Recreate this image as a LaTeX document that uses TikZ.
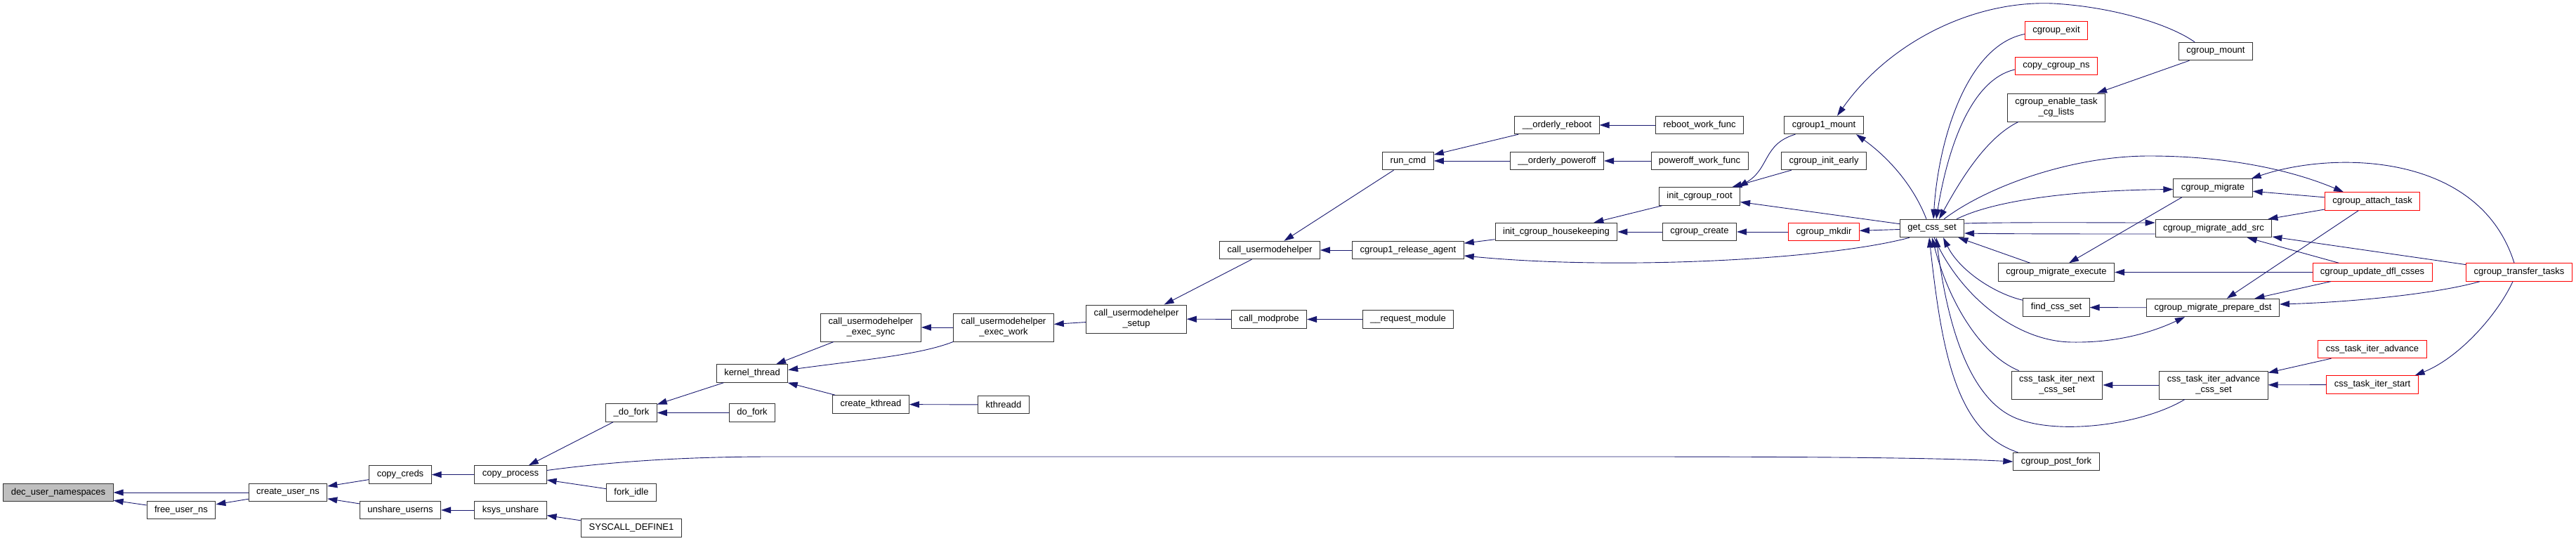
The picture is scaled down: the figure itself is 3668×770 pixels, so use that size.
\documentclass[tikz,border=0pt]{standalone}
\usepackage{fontspec}
\setmainfont{Liberation Sans}
\usetikzlibrary{arrows.meta}
\definecolor{edgeblue}{HTML}{191970}
\definecolor{curgray}{HTML}{BFBFBF}

\begin{document}
\begin{tikzpicture}[x=1pt, y=-1pt,
    fn/.style={draw=black!80, fill=white, line width=0.9pt, inner xsep=11pt, inner ysep=0pt,
        minimum height=25.5pt, font=\fontsize{13}{15}\selectfont, align=center},
    fntwo/.style={fn, minimum height=40pt},
    fnred/.style={fn, draw=red},
    fncur/.style={fn, fill=curgray},
    call/.style={draw=edgeblue, line width=0.9pt, {Triangle[length=14pt,width=9pt]}-}]
        \useasboundingbox (0,0) rectangle (3668,770);

        % User namespaces
        \node[fncur] (dec) at (83,701) {dec\_user\_namespaces};
        \node[fn] (freens) at (258,726) {free\_user\_ns};
        \node[fn] (createns) at (410,701) {create\_user\_ns};
        \node[fn] (copycreds) at (570,675.5) {copy\_creds};
        \node[fn] (unshare) at (570,726) {unshare\_userns};
        \node[fn] (copyproc) at (727,675.5) {copy\_process};
        \node[fn] (ksys) at (727,726) {ksys\_unshare};
        \node[fn] (forkidle) at (899,701) {fork\_idle};
        \node[fn] (syscall) at (899,751.5) {SYSCALL\_DEFINE1};

        % Fork and kernel threads
        \node[fn] (dofork) at (899,587.5) {\_do\_fork};
        \node[fn] (doforkb) at (1071,587.5) {do\_fork};
        \node[fn] (kthread) at (1071,531.5) {kernel\_thread};
        \node[fn] (ckthread) at (1240,575.5) {create\_kthread};
        \node[fn] (kthreadd) at (1429,576) {kthreadd};

        % Usermode helper
        \node[fntwo] (execsync) at (1240,466) {call\_usermodehelper\\\_exec\_sync};
        \node[fntwo] (execwork) at (1429,466) {call\_usermodehelper\\\_exec\_work};
        \node[fntwo] (umhsetup) at (1618,454) {call\_usermodehelper\\\_setup};
        \node[fn] (modprobe) at (1807,454.5) {call\_modprobe};
        \node[fn] (reqmod) at (2005,454.5) {\_\_request\_module};
        \node[fn] (umh) at (1808,356) {call\_usermodehelper};
        \node[fn] (runcmd) at (2005,229) {run\_cmd};
        \node[fn] (relagent) at (2005,356) {cgroup1\_release\_agent};
        \node[fn] (oreboot) at (2217,178) {\_\_orderly\_reboot};
        \node[fn] (opoweroff) at (2217,229) {\_\_orderly\_poweroff};
        \node[fn] (rebootwf) at (2420,178) {reboot\_work\_func};
        \node[fn] (poweroffwf) at (2420,229) {poweroff\_work\_func};

        % Cgroup setup
        \node[fn] (housekeep) at (2216,330) {init\_cgroup\_housekeeping};
        \node[fn] (initroot) at (2420,279.5) {init\_cgroup\_root};
        \node[fn] (cgcreate) at (2420,330) {cgroup\_create};
        \node[fn] (cg1mount) at (2597,178) {cgroup1\_mount};
        \node[fn] (initearly) at (2597,229) {cgroup\_init\_early};
        \node[fnred] (mkdir) at (2597,330) {cgroup\_mkdir};
        \node[fn] (getcss) at (2751,325) {get\_css\_set};

        % Callers of get_css_set
        \node[fnred] (cgexit) at (2928,43.5) {cgroup\_exit};
        \node[fnred] (copycgns) at (2928,94) {copy\_cgroup\_ns};
        \node[fntwo] (enabletask) at (2928,153) {cgroup\_enable\_task\\\_cg\_lists};
        \node[fn] (execute) at (2928,387.5) {cgroup\_migrate\_execute};
        \node[fn] (findcss) at (2928,437.5) {find\_css\_set};
        \node[fntwo] (nextcss) at (2929,548) {css\_task\_iter\_next\\\_css\_set};
        \node[fn] (postfork) at (2928,657) {cgroup\_post\_fork};
        \node[fn] (cgmount) at (3155,73) {cgroup\_mount};
        \node[fn] (migrate) at (3151,267.5) {cgroup\_migrate};
        \node[fn] (addsrc) at (3152,325) {cgroup\_migrate\_add\_src};
        \node[fn] (prepdst) at (3151,438) {cgroup\_migrate\_prepare\_dst};
        \node[fntwo] (advcss) at (3152,548) {css\_task\_iter\_advance\\\_css\_set};
        \node[fnred] (attach) at (3378,286.5) {cgroup\_attach\_task};
        \node[fnred] (updfl) at (3378,387.5) {cgroup\_update\_dfl\_csses};
        \node[fnred] (itadv) at (3378,497) {css\_task\_iter\_advance};
        \node[fnred] (itstart) at (3378,547.5) {css\_task\_iter\_start};
        \node[fnred] (transfer) at (3587,387.5) {cgroup\_transfer\_tasks};

        % Straight calls
        \draw[call] (dec) -- (createns);
        \draw[call] (dec) -- (freens);
        \draw[call] (freens) -- (createns);
        \draw[call] (createns) -- (copycreds);
        \draw[call] (createns) -- (unshare);
        \draw[call] (copycreds) -- (copyproc);
        \draw[call] (unshare) -- (ksys);
        \draw[call] (copyproc) -- (dofork);
        \draw[call] (copyproc) -- (forkidle);
        \draw[call] (ksys) -- (syscall);
        \draw[call] (dofork) -- (kthread);
        \draw[call] (dofork) -- (doforkb);
        \draw[call] (kthread) -- (execsync);
        \draw[call] (kthread) -- (ckthread);
        \draw[call] (ckthread) -- (kthreadd);
        \draw[call] (execsync) -- (execwork);
        \draw[call] (execwork) -- (umhsetup);
        \draw[call] (umhsetup) -- (umh);
        \draw[call] (umhsetup) -- (modprobe);
        \draw[call] (modprobe) -- (reqmod);
        \draw[call] (umh) -- (runcmd);
        \draw[call] (umh) -- (relagent);
        \draw[call] (runcmd) -- (oreboot);
        \draw[call] (runcmd) -- (opoweroff);
        \draw[call] (oreboot) -- (rebootwf);
        \draw[call] (opoweroff) -- (poweroffwf);
        \draw[call] (relagent) -- (housekeep);
        \draw[call] (housekeep) -- (initroot);
        \draw[call] (housekeep) -- (cgcreate);
        \draw[call] (cgcreate) -- (mkdir);
        \draw[call] (initroot) -- (initearly);
        \draw[call] (initroot) -- (getcss);
        \draw[call] (mkdir) -- (getcss);
        \draw[call] (enabletask) -- (cgmount);
        \draw[call] (getcss) -- (execute);
        \draw[call] (execute) -- (updfl);
        \draw[call] ([xshift=18pt]execute.north) -- ([xshift=-44pt]migrate.south);
        \draw[call] (findcss) -- (prepdst);
        \draw[call] (prepdst) -- (attach);
        \draw[call] (prepdst) -- (updfl);
        \draw[call] (migrate) -- (attach);
        \draw[call] (addsrc) -- (attach);
        \draw[call] (addsrc) -- (updfl);
        \draw[call] (addsrc) -- (transfer);
        \draw[call] (advcss) -- (itadv);
        \draw[call] (advcss) -- (itstart);
        \draw[call] (nextcss) -- (advcss);

        % Curved calls
        \draw[call] ([yshift=5pt]kthread.east) .. controls (1230,512) and (1310,505) .. (execwork.south west);
        \draw[call] (postfork.west) .. controls (2750,651) and (2550,650) .. (2300,650) -- (1100,650)
            .. controls (950,650) and (850,660) .. ([yshift=6pt]copyproc.east);
        \draw[call] ([yshift=-8pt]relagent.east) .. controls (2300,385) and (2600,370) .. ([xshift=-32pt]getcss.south);
        \draw[call] ([xshift=-3pt]initroot.north east) .. controls (2520,240) and (2510,205) .. ([xshift=16pt]cg1mount.south west);
        \draw[call] ([xshift=46pt]cg1mount.south) .. controls (2690,225) and (2725,265) .. ([xshift=-8pt]getcss.north);
        \draw[call] ([xshift=19pt]cg1mount.north) .. controls (2690,60) and (2810,0) .. (2924,5)
            .. controls (3010,10) and (3090,35) .. ([xshift=-30pt]cgmount.north);
        \draw[call] ([xshift=2pt]getcss.north) .. controls (2760,200) and (2800,65) .. ([yshift=-5pt]cgexit.west);
        \draw[call] ([xshift=6pt]getcss.north) .. controls (2770,230) and (2800,115) .. ([yshift=-5pt]copycgns.west);
        \draw[call] ([xshift=10pt]getcss.north) .. controls (2795,250) and (2830,195) .. ([xshift=16pt]enabletask.south west);
        \draw[call] ([yshift=-2pt]migrate.west) .. controls (2950,271) and (2840,285) .. ([xshift=35pt]getcss.north);
        \draw[call] ([xshift=-41pt]attach.north) .. controls (3270,245) and (3180,222) .. (3060,222)
            .. controls (2950,222) and (2830,265) .. ([xshift=17pt]getcss.north);
        \draw[call] ([yshift=8pt]addsrc.west) .. controls (3000,317) and (2860,316) .. ([yshift=7pt]getcss.east);
        \draw[call] ([yshift=-7pt]getcss.east) .. controls (2860,333) and (3000,333) .. ([yshift=-8pt]addsrc.west);
        \draw[call] ([xshift=16pt]getcss.south) .. controls (2790,385) and (2840,418) .. ([yshift=-3pt]findcss.north west);
        \draw[call] ([yshift=5pt]prepdst.east) .. controls (3350,430) and (3470,418) .. ([xshift=-56pt]transfer.south);
        \draw[call] ([xshift=-2pt]migrate.north east) .. controls (3320,215) and (3530,215) .. ([xshift=-7pt]transfer.north);
        \draw[call] ([xshift=-5pt]itstart.north east) .. controls (3500,510) and (3555,450) .. ([xshift=-9pt]transfer.south);
        \draw[call] ([xshift=6pt]getcss.south) .. controls (2775,480) and (2810,570) .. (2870,595)
            .. controls (2930,620) and (3050,605) .. ([xshift=-41pt]advcss.south);
        \draw[call] ([xshift=-40pt]prepdst.south) .. controls (3060,475) and (3010,488) .. (2950,487)
            .. controls (2870,486) and (2790,420) .. ([xshift=3pt]getcss.south);
        \draw[call] (getcss.south) .. controls (2775,430) and (2820,505) .. ([xshift=11pt]nextcss.north west);
        \draw[call] ([xshift=-4pt]getcss.south) .. controls (2765,500) and (2785,615) .. ([xshift=7pt]postfork.north west);
    \end{tikzpicture}
\end{document}
